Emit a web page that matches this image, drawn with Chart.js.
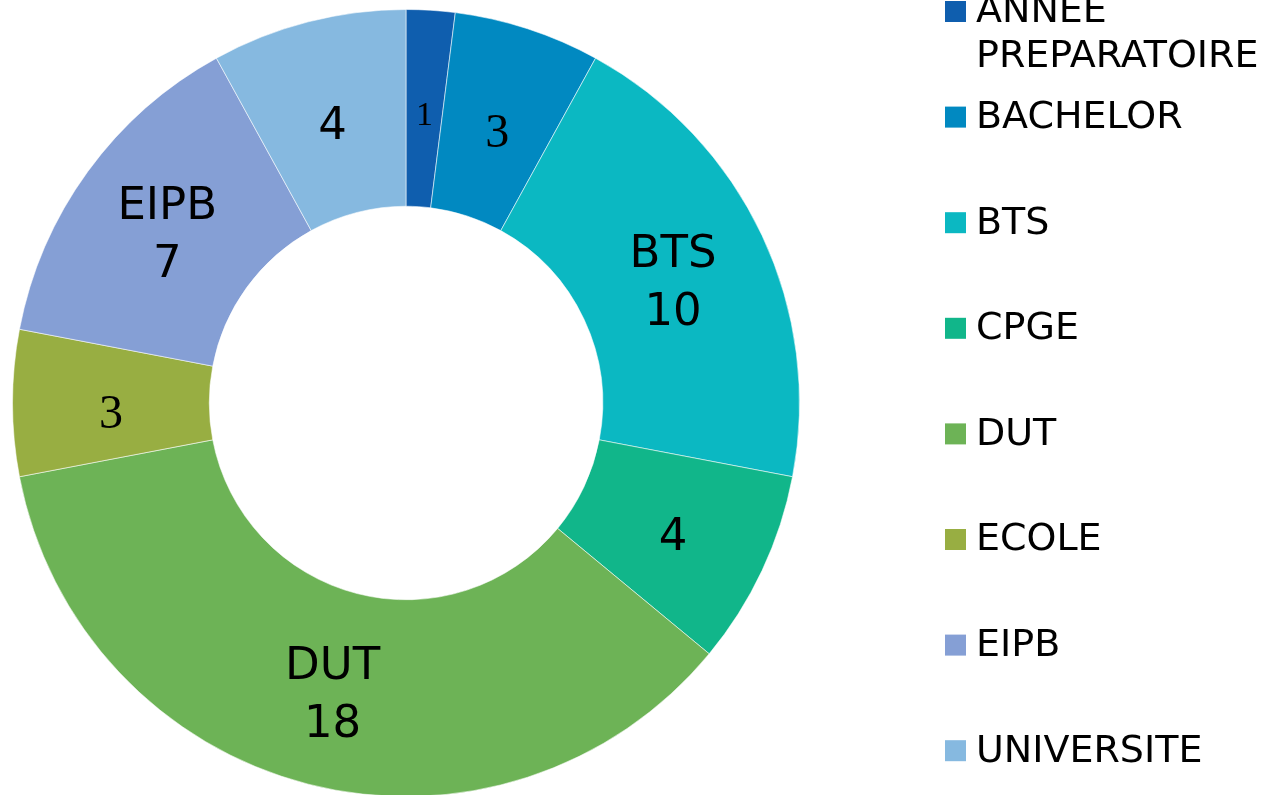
<!DOCTYPE html>
<html>
<head>
<meta charset="utf-8">
<script src="https://cdn.jsdelivr.net/npm/chart.js@4.4.0/dist/chart.umd.min.js"></script>
<style>
  html, body { margin: 0; padding: 0; background: #fff; overflow: hidden; }
  #wrap { position: relative; width: 1270px; height: 800px; }
</style>
</head>
<body>
<div id="wrap"><canvas id="donut"></canvas></div>
<script>
// Data
const categories = ['ANNEE PREPARATOIRE', 'BACHELOR', 'BTS', 'CPGE', 'DUT', 'ECOLE', 'EIPB', 'UNIVERSITE'];
const counts = [1, 3, 10, 4, 18, 3, 7, 4];
const sliceColors = ['#0f5eae', '#0189c1', '#0bb8c2', '#11b68a', '#6db356', '#98ae42', '#859fd5', '#86b9e0'];

// slices whose label shows the category name, and the ones drawn in a serif face
const namedSlices = ['BTS', 'DUT', 'EIPB'];
const serifSlices = ['ANNEE PREPARATOIRE', 'BACHELOR', 'ECOLE'];

const SANS = "'DejaVu Sans', Verdana, sans-serif";
const SERIF = "'Liberation Serif', 'DejaVu Serif', serif";

// Labels drawn at the middle of each arc
const sliceLabels = {
    id: 'sliceLabels',
    afterDatasetsDraw(chart) {
        const ctx = chart.ctx;
        const meta = chart.getDatasetMeta(0);
        ctx.save();
        ctx.fillStyle = '#000';
        ctx.textAlign = 'center';
        ctx.textBaseline = 'middle';
        meta.data.forEach((arc, i) => {
            const p = arc.getProps(['x', 'y', 'startAngle', 'endAngle', 'innerRadius', 'outerRadius'], true);
            const mid = (p.startAngle + p.endAngle) / 2;
            const r = (p.innerRadius + p.outerRadius) / 2;
            const x = p.x + Math.cos(mid) * r;
            const y = p.y + Math.sin(mid) * r;
            const name = categories[i];
            const val = String(counts[i]);
            if (namedSlices.includes(name)) {
                ctx.font = '45px ' + SANS;
                ctx.fillText(name, x, y - 22);
                ctx.fillText(val, x, y + 36);
            } else if (serifSlices.includes(name)) {
                if (counts[i] === 1) {
                    ctx.font = '34px ' + SERIF;
                    ctx.fillText(val, x, y + 8);
                } else {
                    ctx.font = '48px ' + SERIF;
                    ctx.fillText(val, x, y + 12);
                }
            } else {
                ctx.font = '45px ' + SANS;
                ctx.fillText(val, x, y + 10);
            }
        });
        ctx.restore();
    }
};

// Legend on the right, one row every ~105.6px, long names wrapped
const sideLegend = {
    id: 'sideLegend',
    afterDraw(chart) {
        const ctx = chart.ctx;
        const boxX = 945, textX = 976, box = 21;
        const y0 = 11.5, step = 105.6, lineH = 45, maxW = 1269 - textX;
        ctx.save();
        ctx.font = '38px ' + SANS;
        ctx.textAlign = 'left';
        ctx.textBaseline = 'middle';
        categories.forEach((name, i) => {
            const y = y0 + i * step;
            ctx.fillStyle = sliceColors[i];
            ctx.fillRect(boxX, y - box / 2, box, box);
            ctx.fillStyle = '#000';
            // word wrap
            const words = name.split(' ');
            const lines = [];
            let cur = '';
            words.forEach(w => {
                const test = cur ? cur + ' ' + w : w;
                if (cur && ctx.measureText(test).width > maxW) {
                    lines.push(cur);
                    cur = w;
                } else {
                    cur = test;
                }
            });
            lines.push(cur);
            lines.forEach((ln, k) => ctx.fillText(ln, textX, y + 1 + k * lineH));
        });
        ctx.restore();
    }
};

new Chart(document.getElementById('donut'), {
    type: 'doughnut',
    data: {
        labels: categories,
        datasets: [{
            data: counts,
            backgroundColor: sliceColors,
            borderColor: 'rgba(255, 255, 255, 0.55)',
            borderWidth: 1
        }]
    },
    options: {
        responsive: true,
        maintainAspectRatio: false,
        animation: false,
        cutout: '50%',
        layout: { padding: { left: 12, right: 470, top: 9, bottom: 3 } },
        plugins: {
            legend: { display: false },
            tooltip: { enabled: false }
        }
    },
    plugins: [sliceLabels, sideLegend]
});
</script>
</body>
</html>
